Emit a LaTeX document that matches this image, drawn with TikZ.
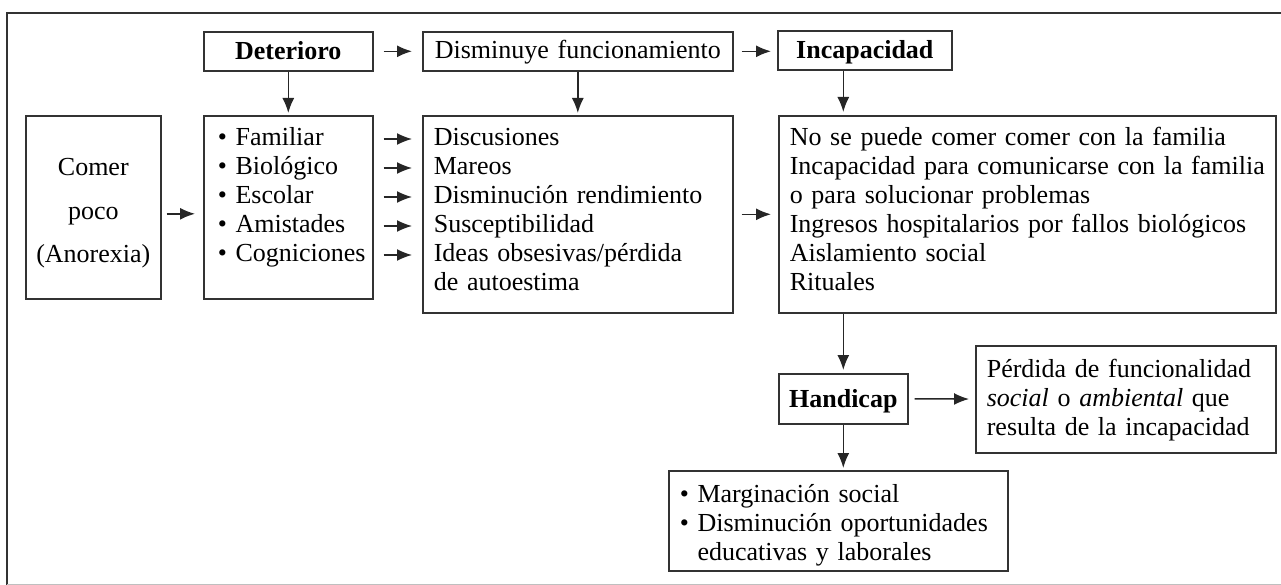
\documentclass[tikz,border=0pt]{standalone}
\usepackage{fontspec}
\setmainfont{Liberation Serif}
\usetikzlibrary{arrows.meta,calc}
\newcommand\figfont{\fontsize{26}{29}\selectfont}
\begin{document}
\begin{tikzpicture}[x=1pt,y=-1pt,
  font=\figfont,
  bx/.style={draw=black!80, line width=1.6pt, inner sep=0pt, anchor=north west},
  ctr/.style={bx, align=center},
  lft/.style={bx, align=left},
  arr/.style={draw=black!85, line width=1.5pt, -{Latex[length=15pt,width=12pt]}},
  frame/.style={draw=black!80, line width=1.6pt}
]
\useasboundingbox (0,0) rectangle (1281,585);
\draw[frame] (7,585) -- (7,13) -- (1281,13);
\draw[draw=black!25, line width=1pt] (7,584) -- (1281,584);

\node[ctr, text width=169pt, text height=28pt, text depth=11pt, font=\figfont\bfseries] (det) at (203,31) {Deterioro};
\node[ctr, text width=310pt, text height=27pt, text depth=12pt] (dis) at (422,31) {Disminuye funcionamiento};
\node[ctr, text width=174pt, text height=28pt, text depth=11pt, font=\figfont\bfseries] (inc) at (777,30) {Incapacidad};

\node[ctr, text width=135pt, text height=60pt, text depth=123pt] (com) at (25,115) {Comer\\[14.5pt]poco\\[14.5pt](Anorexia)};
\node[lft, text width=169pt, text height=30pt, text depth=153pt] (lst) at (203,115) {\leftskip=14pt \textbullet\ Familiar\\\textbullet\ Biológico\\\textbullet\ Escolar\\\textbullet\ Amistades\\\textbullet\ Cogniciones\par};
\node[lft, text width=310pt, text height=30pt, text depth=167pt] (dsc) at (422,115) {\leftskip=11pt Discusiones\\Mareos\\Disminución rendimiento\\Susceptibilidad\\Ideas obsesivas/pérdida\\de autoestima\par};
\node[lft, text width=497pt, text height=30pt, text depth=167pt] (big) at (778,115) {\leftskip=11pt No se puede comer comer con la familia\\Incapacidad para comunicarse con la familia\\o para solucionar problemas\\Ingresos hospitalarios por fallos biológicos\\Aislamiento social\\Rituales\par};

\node[ctr, text width=129pt, text height=34pt, text depth=16pt, font=\figfont\bfseries] (han) at (778,373) {Handicap};
\node[lft, text width=300pt, text height=32pt, text depth=75pt] (per) at (975,345) {\leftskip=11pt Pérdida de funcionalidad\\\textit{social} o \textit{ambiental} que\\resulta de la incapacidad\par};
\node[lft, text width=339pt, text height=32pt, text depth=68pt] (bot) at (668,470) {\leftskip=11pt \textbullet\ Marginación social\\\textbullet\ Disminución oportunidades\\\phantom{\textbullet\ }educativas y laborales\par};

\draw[arr, shorten <=10pt, shorten >=10pt] (det) -- (dis);
\draw[arr, shorten <=8pt, shorten >=6pt] (dis.east) -- (dis.east -| inc.west);
\draw[arr, shorten <=5pt, shorten >=8pt] ([yshift=-6.5pt]com.east) -- ([yshift=-6.5pt]com.east -| lst.west);
\foreach \d in {24,53,82,111,140}
  \draw[arr, shorten <=10pt, shorten >=10pt] ([yshift=-\d pt]lst.north east) -- ([yshift=-\d pt]lst.north east -| dsc.west);
\draw[arr, shorten <=8pt, shorten >=7pt] (dsc) -- (big);
\draw[arr, shorten >=2pt] (det) -- (lst);
\draw[arr, shorten >=2pt] (dis) -- (dsc);
\draw[arr, shorten >=3pt] (inc.south -| han) -- (big.north -| han);
\draw[arr, shorten >=3pt] (big.south -| han) -- (han);
\draw[arr, shorten <=6pt, shorten >=6pt] (han) -- (per);
\draw[arr, shorten >=2pt] (han) -- (han |- bot.north);
\end{tikzpicture}
\end{document}
